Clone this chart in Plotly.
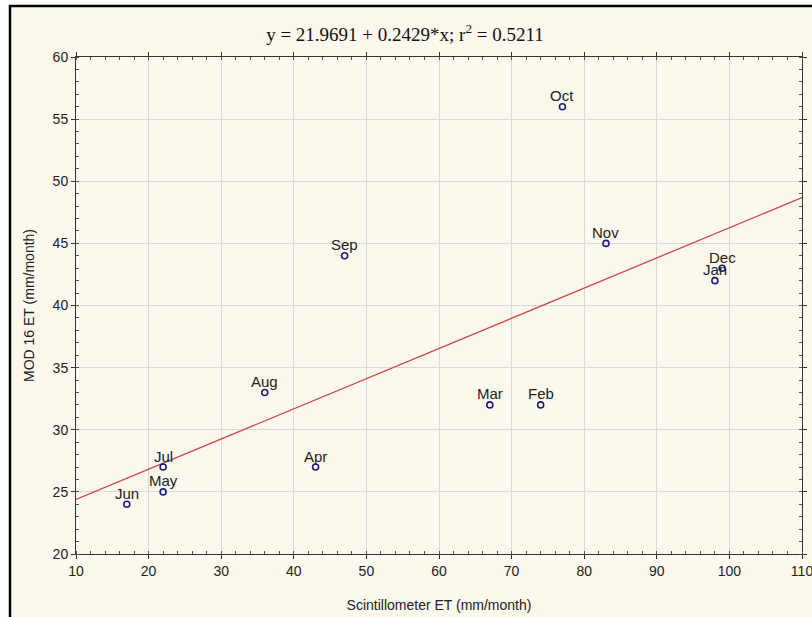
import plotly.graph_objects as go

# Monthly evapotranspiration: scintillometer vs MOD16
months = ["Jan", "Feb", "Mar", "Apr", "May", "Jun", "Jul", "Aug", "Sep", "Oct", "Nov", "Dec"]
scint_et = [98, 74, 67, 43, 22, 17, 22, 36, 47, 77, 83, 99]
mod16_et = [42, 32, 32, 27, 25, 24, 27, 33, 44, 56, 45, 43]

# Fitted regression line
intercept = 21.9691
slope = 0.2429
r_squared = 0.5211
fit_x = [10, 110]
fit_y = [intercept + slope * x for x in fit_x]

W, H = 812, 617
L, R, T, B = 76, 802, 57, 554

fig = go.Figure()

fig.add_trace(go.Scatter(
    x=fit_x, y=fit_y, mode="lines",
    line=dict(color="#d0474a", width=1.3),
    hoverinfo="skip", showlegend=False,
))

# Point markers
fig.add_trace(go.Scatter(
    x=scint_et, y=mod16_et, mode="markers",
    marker=dict(symbol="circle-open", size=6, color="#1c1c7a", line=dict(width=1.6)),
    showlegend=False,
))

# Month labels, sitting tight on top of the markers
for name, xv, yv in zip(months, scint_et, mod16_et):
    fig.add_annotation(
        x=xv, y=yv, text=name, showarrow=False,
        xanchor="center", yanchor="middle", yshift=11,
        font=dict(family="Liberation Sans, Arial", size=15, color="#222222"),
    )

def px_x(p):
    return (p - L) / (R - L)

def px_y(p):
    return (B - p) / (B - T)

# Outer framed panel
fig.add_shape(
    type="rect", xref="paper", yref="paper",
    x0=px_x(10), x1=px_x(W + 5), y0=px_y(H + 5), y1=px_y(6),
    fillcolor="#fcf8ee", line=dict(color="#000000", width=2.5),
    layer="below",
)

axis_common = dict(
    showline=True, linecolor="#333333", linewidth=1, mirror="ticks",
    showgrid=True, gridcolor="#d9d9d9", gridwidth=1,
    ticks="outside", ticklen=4, tickcolor="#333333",
    tickfont=dict(family="Liberation Sans, Arial", size=14, color="#222222"),
    zeroline=False, automargin=False, ticklabeloverflow="allow",
)

fig.update_xaxes(
    range=[10, 110], dtick=10, tick0=10,
    minor=dict(dtick=2, ticks="inside", ticklen=3, tickcolor="#555555", showgrid=False),
    title=dict(text="Scintillometer ET (mm/month)",
               font=dict(family="Liberation Sans, Arial", size=14, color="#222222"),
               standoff=22),
    **axis_common,
)
fig.update_yaxes(
    range=[20, 60], dtick=5, tick0=20,
    minor=dict(dtick=1, ticks="inside", ticklen=3, tickcolor="#555555", showgrid=False),
    title=dict(text="MOD 16 ET (mm/month)",
               font=dict(family="Liberation Sans, Arial", size=14, color="#222222"),
               standoff=14),
    **axis_common,
)

fig.update_layout(
    width=W, height=H,
    margin=dict(l=L, r=W - R, t=T, b=H - B),
    paper_bgcolor="#ffffff", plot_bgcolor="#ffffff",
    title=dict(
        text=f"y = {intercept:.4f} + {slope:.4f}*x; r<sup>2</sup> = {r_squared:.4f}",
        font=dict(family="Liberation Serif, Times New Roman", size=19, color="#111111"),
        x=(405) / W, xanchor="center", y=1 - 34 / H, yanchor="middle",
        xref="container", yref="container",
    ),
)

fig.write_html("out.html")
